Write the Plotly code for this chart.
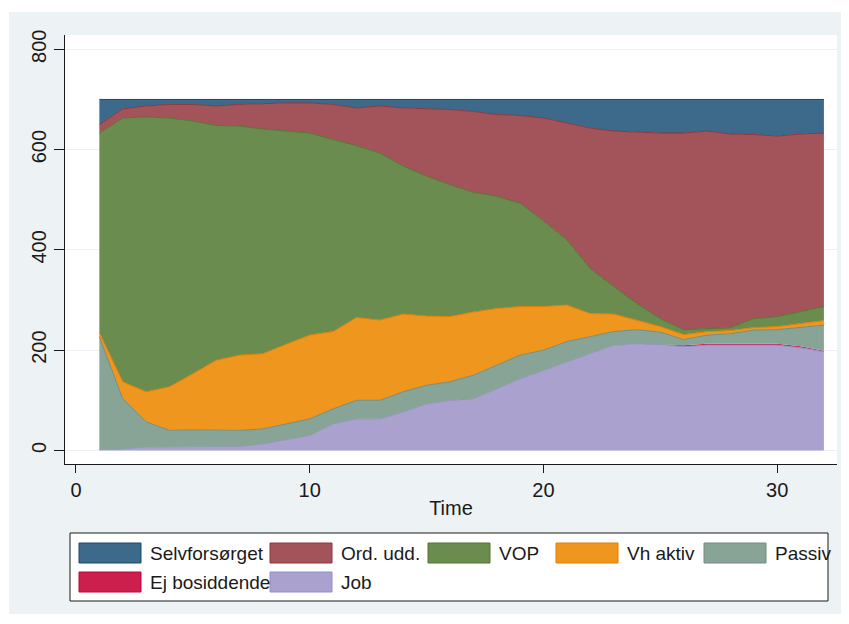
import plotly.graph_objects as go

# ---- data ----
time = list(range(1, 33))

job = [2, 3, 7, 7, 7, 7, 8, 13, 22, 30, 53, 63, 63, 77, 93, 100, 103, 123, 143, 160,
       177, 193, 210, 213, 212, 207, 210, 210, 210, 210, 205, 197]
ej_bosiddende = [0, 0, 0, 0, 0, 0, 0, 0, 0, 0, 0, 0, 0, 0, 0, 0, 0, 0, 0, 0,
                 0, 0, 0, 0, 0, 3, 3, 3, 3, 3, 3, 2]
passiv = [225, 100, 50, 33, 34, 34, 32, 30, 31, 33, 30, 37, 37, 40, 37, 37, 47, 47, 47, 40,
          40, 34, 27, 28, 24, 11, 17, 20, 27, 28, 37, 51]
vh_aktiv = [8, 34, 60, 87, 112, 139, 150, 150, 159, 167, 154, 165, 160, 155, 138, 130, 126, 113, 97, 87,
            73, 46, 35, 19, 11, 10, 7, 6, 5, 6, 8, 9]
vop = [398, 526, 548, 536, 504, 468, 457, 448, 425, 403, 383, 343, 333, 295, 279, 263, 239, 224, 206, 171,
       130, 90, 55, 33, 16, 10, 6, 6, 18, 20, 24, 28]
ord_udd = [17, 18, 22, 27, 33, 39, 43, 51, 56, 60, 70, 75, 94, 116, 134, 150, 161, 163, 175, 205,
           233, 280, 310, 342, 370, 392, 394, 386, 367, 360, 354, 346]
selvforsorget = [50, 19, 13, 10, 10, 13, 10, 8, 7, 7, 10, 17, 13, 17, 19, 20, 24, 30, 32, 37,
                 47, 57, 63, 65, 67, 67, 63, 69, 70, 73, 69, 67]

# stacking order bottom -> top
series = [
    ("Job", job, "#aaa1cf", "#938dd2", 1),
    ("Ej bosiddende", ej_bosiddende, "#cc1f4e", "#c10534", 0),
    ("Passiv", passiv, "#87a497", "#6e8e84", 1),
    ("Vh aktiv", vh_aktiv, "#ef961f", "#e37e00", 1),
    ("VOP", vop, "#6a8c4e", "#55752f", 1),
    ("Ord. udd.", ord_udd, "#a2545a", "#90353b", 1),
    ("Selvforsørget", selvforsorget, "#3d6a8b", "#1a476f", 1),
]

# legend order (as in reference)
legend_order = ["Selvforsørget", "Ord. udd.", "VOP", "Vh aktiv", "Passiv", "Ej bosiddende", "Job"]

FONT = "Liberation Sans, Arial, Helvetica, sans-serif"

fig = go.Figure()
for name, vals, fc, lc, lw in series:
    fig.add_trace(go.Scatter(
        x=time, y=vals, name=name, mode="lines", stackgroup="one",
        fillcolor=fc, line=dict(color=lc, width=lw), showlegend=False,
    ))

# ---- layout geometry ----
# the page body has an 8px margin, so the figure is drawn offset by 8px
OFF = 8
W, H = 849 - OFF, 624 - OFF
# plot-area box in screen pixels
SL, SR, ST, SB = 65, 837, 35, 464
L, R, T, B = SL - OFF, SR - OFF, ST - OFF, SB - OFF


def px2x(sx):
    return (sx - OFF - L) / (R - L)


def py2y(sy):
    return (B - (sy - OFF)) / (B - T)


shapes = []
# white outer strips around the light panel
shapes.append(dict(type="rect", xref="paper", yref="paper", x0=px2x(0), x1=px2x(9),
                   y0=py2y(640), y1=py2y(0), fillcolor="white", line=dict(width=0)))
shapes.append(dict(type="rect", xref="paper", yref="paper", x0=px2x(0), x1=px2x(870),
                   y0=py2y(12), y1=py2y(0), fillcolor="white", line=dict(width=0)))
shapes.append(dict(type="rect", xref="paper", yref="paper", x0=px2x(0), x1=px2x(870),
                   y0=py2y(640), y1=py2y(614), fillcolor="white", line=dict(width=0)))

# legend box
shapes.append(dict(type="rect", xref="paper", yref="paper", x0=px2x(70), x1=px2x(828),
                   y0=py2y(601), y1=py2y(533), fillcolor="white",
                   line=dict(color="#1a1a1a", width=1)))

annotations = []
col_x = [79, 270, 428, 556, 704]
row_y = [543, 572]
colors = {name: (fc, lc) for name, _, fc, lc, _ in series}
for i, name in enumerate(legend_order):
    r, c = divmod(i, 5)
    x0 = col_x[c]
    y0 = row_y[r]
    fc, lc = colors[name]
    shapes.append(dict(type="rect", xref="paper", yref="paper",
                       x0=px2x(x0), x1=px2x(x0 + 62), y0=py2y(y0 + 20), y1=py2y(y0),
                       fillcolor=fc, line=dict(color=lc, width=1)))
    annotations.append(dict(xref="paper", yref="paper", x=px2x(x0 + 69), y=py2y(y0 + 10),
                            text=name, showarrow=False, xanchor="left", yanchor="middle",
                            font=dict(family=FONT, size=19, color="#1a1a1a")))

fig.update_layout(
    width=W, height=H,
    margin=dict(l=L, r=W - R, t=T, b=H - B, pad=0),
    paper_bgcolor="#edf2f5",
    plot_bgcolor="white",
    font=dict(family=FONT, size=20, color="#1a1a1a"),
    shapes=shapes,
    annotations=annotations,
    showlegend=False,
)

fig.update_xaxes(
    range=[-0.47, 32.56], tickvals=[0, 10, 20, 30],
    showline=True, linecolor="#1a1a1a", linewidth=1,
    ticks="outside", ticklen=8, tickcolor="#1a1a1a", tickwidth=1,
    showgrid=False, zeroline=False,
    title=dict(text="Time", standoff=0, font=dict(size=20)),
    tickfont=dict(size=20),
)
fig.update_yaxes(
    range=[-27, 828.5], tickvals=[0, 200, 400, 600, 800], tickangle=-90,
    showline=True, linecolor="#1a1a1a", linewidth=1,
    ticks="outside", ticklen=10, tickcolor="#1a1a1a", tickwidth=1,
    showgrid=True, gridcolor="#e9eff3", gridwidth=1, zeroline=False,
    tickfont=dict(size=20),
)

fig.write_html("out.html")
